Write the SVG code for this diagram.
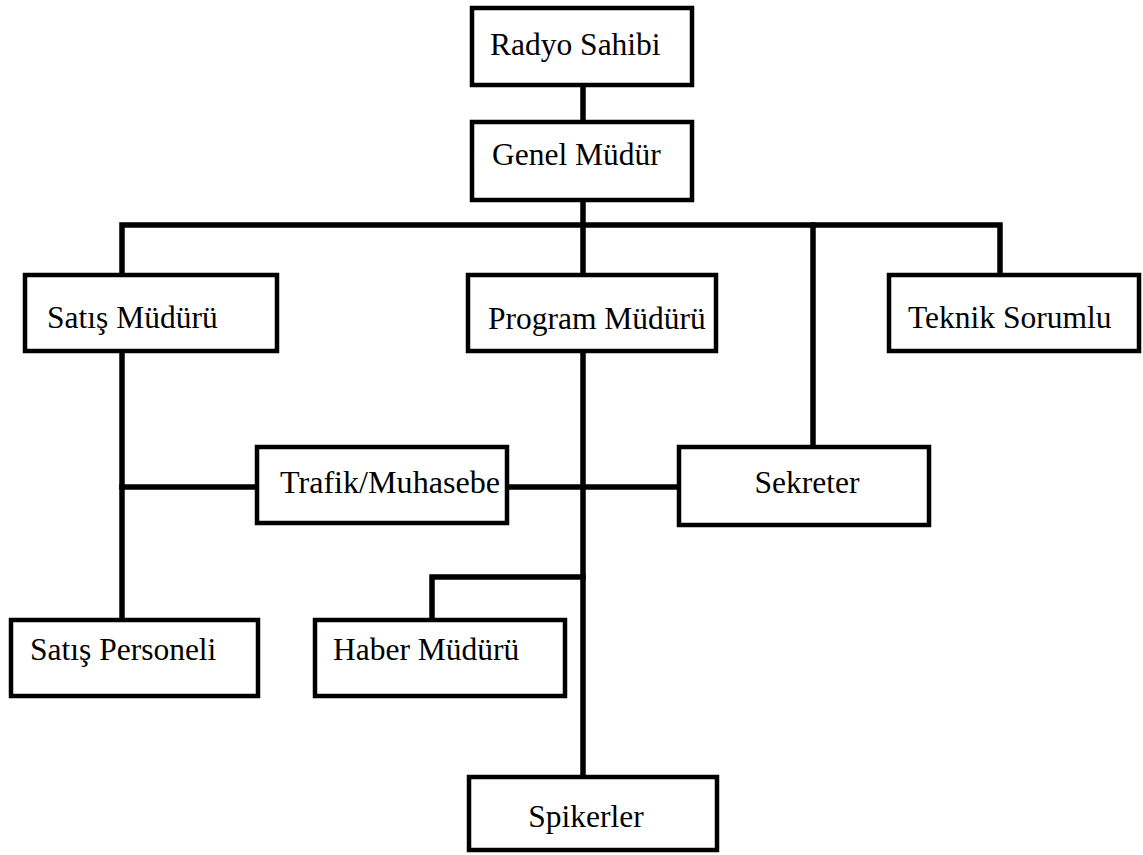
<svg xmlns="http://www.w3.org/2000/svg" width="1143" height="855" viewBox="0 0 1143 855">
<style>
.box{fill:#fff;stroke:#000;stroke-width:4.5}
.lbl{font-family:"Liberation Serif","Times New Roman",serif;font-size:31.5px;fill:#000}
.c{text-anchor:middle}
.conn{stroke:#000;stroke-width:5.5;fill:none;stroke-linecap:square}
</style>
<rect width="1143" height="855" fill="#fff"/>
<g id="connectors">
<path class="conn" d="M583 85V122"/>
<path class="conn" d="M583 200V275"/>
<path class="conn" d="M122 275V225H1000V275"/>
<path class="conn" d="M813 225V447"/>
<path class="conn" d="M583 351V777"/>
<path class="conn" d="M122 351V620"/>
<path class="conn" d="M122 487H257"/>
<path class="conn" d="M507 487H679"/>
<path class="conn" d="M583 577H432V620"/>
</g>
<g id="radyo-sahibi"><rect class="box" x="472" y="8" width="220" height="77"/><text class="lbl" x="490" y="55">Radyo Sahibi</text></g>
<g id="genel-mudur"><rect class="box" x="472" y="122" width="220" height="78"/><text class="lbl" x="492" y="165">Genel Müdür</text></g>
<g id="satis-muduru"><rect class="box" x="25" y="275" width="252" height="76"/><text class="lbl" x="47" y="328">Satış Müdürü</text></g>
<g id="program-muduru"><rect class="box" x="468" y="275" width="248" height="76"/><text class="lbl" x="488" y="329">Program Müdürü</text></g>
<g id="teknik-sorumlu"><rect class="box" x="889" y="275" width="250" height="76"/><text class="lbl" x="908" y="328">Teknik Sorumlu</text></g>
<g id="trafik-muhasebe"><rect class="box" x="257" y="447" width="250" height="76"/><text class="lbl" x="280" y="493" textLength="220" lengthAdjust="spacingAndGlyphs">Trafik/Muhasebe</text></g>
<g id="sekreter"><rect class="box" x="679" y="447" width="250" height="78"/><text class="lbl c" x="807" y="493">Sekreter</text></g>
<g id="satis-personeli"><rect class="box" x="11" y="620" width="247" height="76"/><text class="lbl" x="30" y="660">Satış Personeli</text></g>
<g id="haber-muduru"><rect class="box" x="315" y="620" width="250" height="76"/><text class="lbl" x="333" y="660">Haber Müdürü</text></g>
<g id="spikerler"><rect class="box" x="469" y="777" width="248" height="73"/><text class="lbl c" x="586" y="827">Spikerler</text></g>
</svg>
